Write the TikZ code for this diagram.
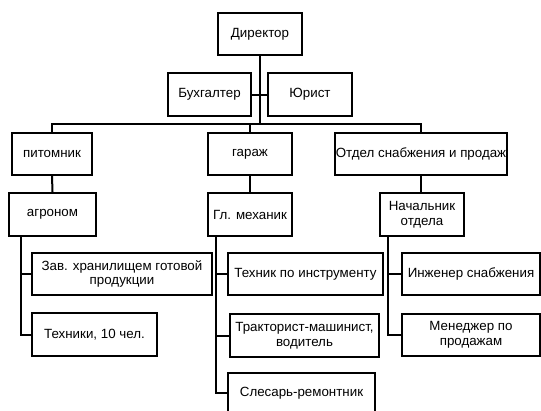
\documentclass[tikz,border=0pt]{standalone}
\usepackage{fontspec}
\setmainfont{Liberation Sans}
\tikzset{
  box/.style={draw, line width=1.5pt, inner sep=0pt, align=center,
    font=\fontsize{10}{11}\selectfont},
  sz/.style 2 args={minimum width=#1*0.75pt, minimum height=#2*0.75pt},
  link/.style={line width=1.5pt}
}
\begin{document}
\begin{tikzpicture}[x=0.75pt, y=-0.75pt]
    \useasboundingbox (0,0) rectangle (541,410);

    % top
    \node[box, sz={84}{42}] (dir) at (260,34) {Директор};
    \node[box, sz={83}{43}] (buh) at (209.5,94.5) {Бухгалтер};
    \node[box, sz={84}{43}] (jur) at (310,94.5) {Юрист};

    % departments
    \node[box, sz={80}{42}] (pit) at (52,154) {питомник};
    \node[box, sz={84}{42}] (gar) at (250,154) {гараж};
    \node[box, sz={172}{42}] (otd) at (421,154) {Отдел снабжения и продаж};

    % heads
    \node[box, sz={87}{43}] (agr) at (52.5,214.5) {агроном};
    \node[box, sz={84}{43}] (mech) at (250,214.5) {Гл. механик};
    \node[box, sz={84}{43}] (nach) at (422,214.5) {Начальник\\отдела};

    % staff
    \node[box, sz={180}{42}] (zav) at (122,274) {Зав. хранилищем готовой\\продукции};
    \node[box, sz={125}{43}] (tech) at (94.5,334.5) {Техники, 10 чел.};
    \node[box, sz={155}{42}] (instr) at (305.5,274) {Техник по инструменту};
    \node[box, sz={149}{43}] (trakt) at (304.5,335.5) {Тракторист-машинист,\\водитель};
    \node[box, sz={147}{40}] (sles) at (301.5,393) {Слесарь-ремонтник};
    \node[box, sz={138}{42}] (eng) at (471,274) {Инженер снабжения};
    \node[box, sz={138}{42}] (man) at (471,335) {Менеджер  по\\продажам};

    % connectors
    \coordinate (bus) at (260,124);
    \draw[link] (dir.south) -- (bus);
    \draw[link] (buh.east) -- (buh.east -| bus);
    \draw[link] (jur.west) -- (jur.west -| bus);
    \draw[link] (pit.north) |- (bus) -| (otd.north);
    \draw[link] (gar.north) |- (bus);

    \draw[link] (pit.south) -- (agr.north);
    \draw[link] (gar.south) -- (mech.north);
    \draw[link] (otd.south) -- (otd.south |- nach.north);

    \coordinate (agrs) at (21,236);
    \draw[link] (agrs) |- (tech.west);
    \draw[link] (agrs |- zav.west) -- (zav.west);

    \coordinate (mechs) at (216,236);
    \draw[link] (mechs) |- (sles.west);
    \draw[link] (mechs |- instr.west) -- (instr.west);
    \draw[link] (mechs |- trakt.west) -- (trakt.west);

    \coordinate (nachs) at (388,236);
    \draw[link] (nachs) |- (man.west);
    \draw[link] (nachs |- eng.west) -- (eng.west);
\end{tikzpicture}
\end{document}
